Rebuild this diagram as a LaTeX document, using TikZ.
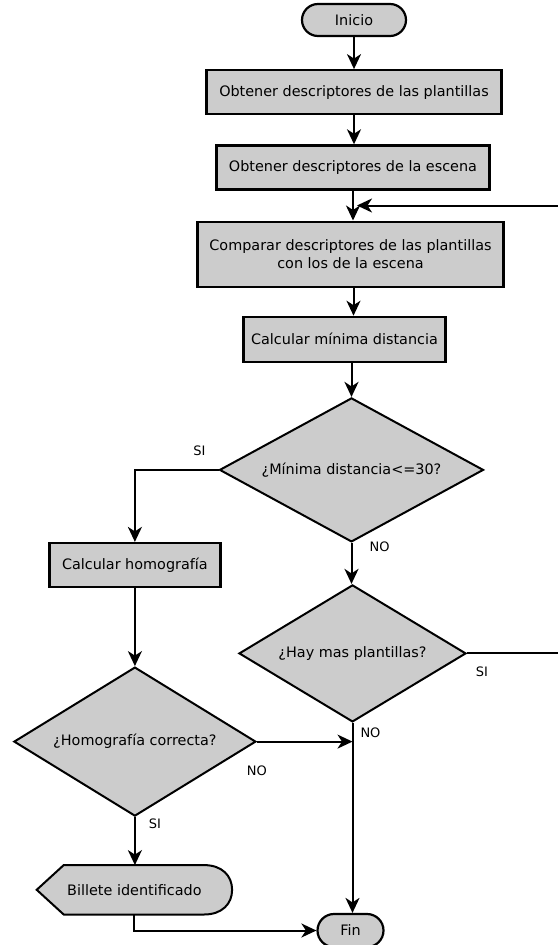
\documentclass[tikz,border=0pt]{standalone}
\usepackage{fontspec}
\setmainfont{DejaVu Sans}
\usetikzlibrary{positioning,shapes.geometric,arrows.meta,calc,backgrounds}

\begin{document}
\begin{tikzpicture}[
        x=1pt, y=1pt,
        >={Stealth[length=15pt,width=14pt,inset=4.5pt]},
        every node/.style = {font=\fontsize{14.4}{17.5}\selectfont, align=center},
        proc/.style = {shape=rectangle, draw, fill=gray!40, line width=2.2pt, inner sep=2pt},
        term/.style = {proc, rounded corners=16pt},
        decision/.style = {shape=diamond, draw, fill=gray!40, line width=2pt, inner sep=0pt},
        tag/.style = {draw=none, fill=none, font=\fontsize{13}{15}\selectfont},
        flow/.style = {->, line width=2pt}]
    \useasboundingbox (0,0) rectangle (557,-945);

    % main column
    \node[term, minimum width=104pt, minimum height=32pt] (inicio) at (354,-20) {Inicio};
    \node[proc, below=32pt of inicio, minimum width=295pt, minimum height=44pt] (plant) {Obtener descriptores de las plantillas};
    \node[proc, below=29pt of plant, xshift=-1pt, minimum width=273pt, minimum height=44pt] (escena) {Obtener descriptores de la escena};
    \node[proc, below=30pt of escena, xshift=-2.5pt, minimum width=306pt, minimum height=65pt] (comparar) {Comparar descriptores de las plantillas\\con los de la escena};
    \node[proc, below=28pt of comparar, xshift=-6pt, minimum width=202pt, minimum height=45pt] (minima) {Calcular mínima distancia};
    \node[decision, aspect=1.83, below=34pt of minima, xshift=7pt, minimum width=264pt, minimum height=144pt] (umbral) {¿Mínima distancia<=30?};
    \node[decision, aspect=1.66, below=41pt of umbral, xshift=1pt, minimum width=227pt, minimum height=137pt] (quedan) {¿Hay mas plantillas?};
    \node[term, below=190pt of quedan, xshift=-2pt, minimum width=66pt, minimum height=33pt, rounded corners=16.5pt] (fin) {Fin};

    % left column
    \node[proc, below left=72pt and -3pt of umbral.west, minimum width=171pt, minimum height=44pt] (homog) {Calcular homografía};
    \node[decision, aspect=1.62, below=78pt of homog, minimum width=242pt, minimum height=149pt] (correcta) {¿Homografía correcta?};
    \node[below=48pt of correcta, xshift=-0.5pt, minimum width=195pt, minimum height=49pt, inner sep=0pt] (billete) {Billete identificado};
    \begin{scope}[on background layer]
        \draw[fill=gray!40, line width=2pt]
            (billete.west)
            -- ([xshift=27pt]billete.north west)
            -- ([xshift=-28pt]billete.north east)
            .. controls ([xshift=-10pt]billete.north east) and ([yshift=14pt]billete.east) .. (billete.east)
            .. controls ([yshift=-14pt]billete.east) and ([xshift=-10pt]billete.south east) .. ([xshift=-28pt]billete.south east)
            -- ([xshift=27pt]billete.south west)
            -- cycle;
    \end{scope}

    % labels
    \node[tag] (si1) at ([xshift=-19pt,yshift=19pt]umbral.west) {SI};
    \node[tag] (no1) at ([xshift=28pt,yshift=-4pt]umbral.south) {NO};
    \node[tag] (si2) at ([xshift=15pt,yshift=-18pt]quedan.east) {SI};
    \node[tag] (no2) at ([xshift=18pt,yshift=-10pt]quedan.south) {NO};
    \node[tag] (no3) at ([yshift=-29pt]correcta.east) {NO};
    \node[tag] (si3) at ([xshift=20pt,yshift=-7pt]correcta.south) {SI};

    \coordinate (retorno) at ($(escena.south)!0.5!(escena.south |- comparar.north)$);
    \coordinate (union) at (quedan.south |- correcta.east);
    \coordinate (fuera) at ([xshift=95pt]quedan.east);

    \draw[flow] (inicio) -- (plant);
    \draw[flow] (plant.south) -- (plant.south |- escena.north);
    \draw[flow] (escena.south) -- (escena.south |- comparar.north);
    \draw[flow] ([xshift=3pt]comparar.south) -- ([xshift=3pt]comparar.south |- minima.north);
    \draw[flow] (minima.south -| umbral.north) -- (umbral.north);
    \draw[flow] (umbral.south) -- (umbral.south |- quedan.north);
    \draw[flow] (umbral.west) -| (homog.north);
    \draw[flow] (homog.south) -- (homog.south |- correcta.north);
    \draw[flow] (correcta.south) -- (correcta.south |- billete.north);
    \draw[flow] (billete.south) |- (fin.west);
    \draw[flow] (quedan.south) -- (quedan.south |- fin.north);
    \draw[flow] (correcta.east) -- (union);
    \draw[flow, shorten >=4pt] (quedan.east) -- (fuera) |- (retorno);

\end{tikzpicture}
\end{document}
